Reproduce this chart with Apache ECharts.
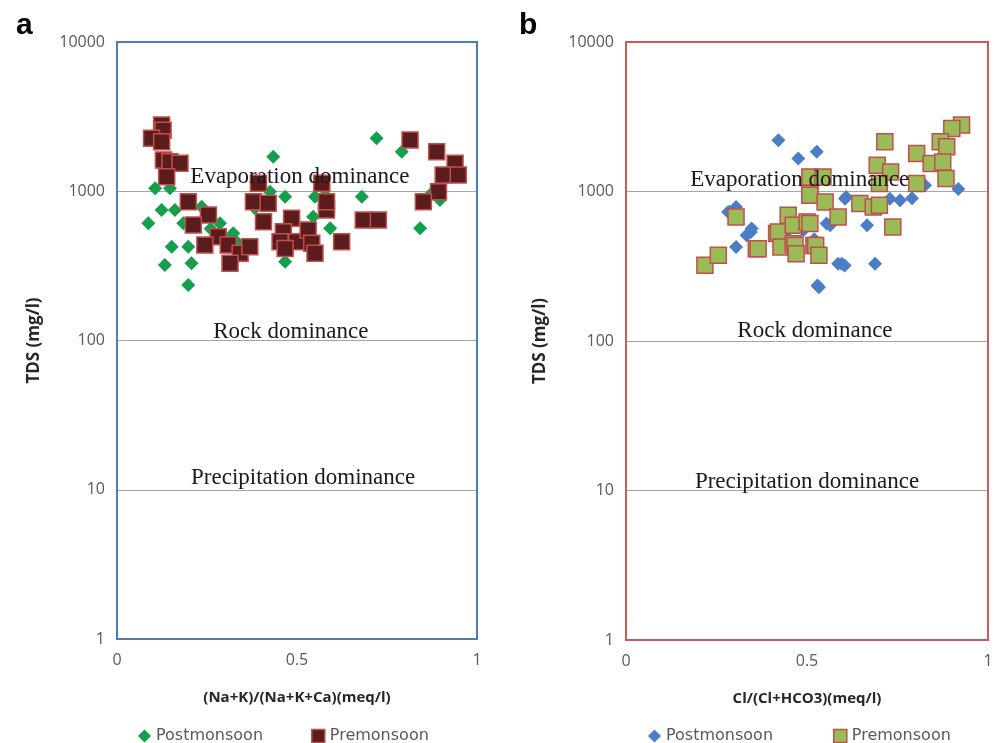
<!DOCTYPE html>
<html>
<head>
<meta charset="utf-8">
<script src="https://cdn.jsdelivr.net/npm/echarts@6/dist/echarts.min.js"></script>
<style>
  html, body { margin: 0; padding: 0; background: #fff; }
  #main { width: 998px; height: 743px; }
</style>
</head>
<body>
<div id="main"></div>
<script>
// panel a: (Na+K)/(Na+K+Ca) vs TDS
const postA = [
  [0.087, 610], [0.106, 1047], [0.147, 1047], [0.124, 749], [0.161, 749], [0.184, 610],
  [0.235, 788], [0.286, 610], [0.323, 523], [0.152, 425], [0.198, 425], [0.133, 321],
  [0.207, 329], [0.198, 235], [0.332, 459], [0.434, 1706], [0.425, 993], [0.467, 919],
  [0.55, 919], [0.578, 944], [0.545, 675], [0.592, 565], [0.467, 337], [0.383, 769],
  [0.721, 2264], [0.791, 1841], [0.68, 919], [0.842, 565], [0.897, 874], [0.874, 970],
  [0.26, 560], [0.3, 480]
];
const preA = [
  [0.124, 2780], [0.128, 2560], [0.096, 2264], [0.124, 2148], [0.129, 1618], [0.147, 1578],
  [0.175, 1540], [0.138, 1250], [0.198, 851], [0.254, 693], [0.212, 594], [0.281, 496],
  [0.244, 436], [0.309, 436], [0.342, 384], [0.369, 425], [0.314, 329], [0.393, 1130],
  [0.379, 851], [0.42, 830], [0.407, 625], [0.485, 659], [0.462, 536], [0.453, 459],
  [0.499, 459], [0.467, 414], [0.531, 551], [0.541, 448], [0.55, 384], [0.569, 1130],
  [0.582, 749], [0.582, 850], [0.624, 459], [0.684, 641], [0.726, 641], [0.814, 2203],
  [0.888, 1841], [0.939, 1540], [0.906, 1285], [0.948, 1285], [0.893, 993], [0.851, 851]
];

// panel b: Cl/(Cl+HCO3) vs TDS
const postB = [
  [0.421, 2203], [0.476, 1663], [0.527, 1841], [0.287, 729], [0.347, 565], [0.333, 509],
  [0.304, 425], [0.529, 235], [0.304, 788], [0.282, 729], [0.345, 536], [0.533, 229],
  [0.586, 329], [0.604, 320], [0.554, 610], [0.605, 895], [0.608, 919], [0.729, 895],
  [0.757, 874], [0.826, 1101], [0.918, 1040], [0.564, 594], [0.666, 594], [0.596, 329],
  [0.688, 329], [0.79, 900], [0.49, 550], [0.52, 480], [0.45, 480]
];
const preB = [
  [0.218, 321], [0.255, 374], [0.304, 675], [0.36, 414], [0.365, 414], [0.416, 523],
  [0.421, 536], [0.428, 425], [0.448, 693], [0.462, 594], [0.462, 448], [0.467, 436],
  [0.47, 384], [0.5, 625], [0.508, 610], [0.519, 436], [0.524, 436], [0.533, 374],
  [0.508, 1250], [0.508, 970], [0.544, 1250], [0.508, 944], [0.55, 851], [0.586, 675],
  [0.927, 2780], [0.9, 2640], [0.868, 2148], [0.886, 1990], [0.715, 2148], [0.803, 1796],
  [0.843, 1540], [0.875, 1578], [0.884, 1222], [0.803, 1130], [0.694, 1500], [0.731, 1352],
  [0.7, 1130], [0.646, 830], [0.683, 788], [0.7, 809], [0.737, 579]
];

// zone labels [x, y, text]
const zonesA = [[0.508, 1245, 'Evaporation dominance'], [0.483, 114, 'Rock dominance'], [0.517, 12, 'Precipitation dominance']];
const zonesB = [[0.48, 1190, 'Evaporation dominance'], [0.522, 116, 'Rock dominance'], [0.5, 11.4, 'Precipitation dominance']];

const xTitles = ['(Na+K)/(Na+K+Ca)(meq/l)', 'Cl/(Cl+HCO3)(meq/l)'];
const yTitle = 'TDS (mg/l)';

const tickFont = { color: '#595959', fontSize: 16, fontFamily: 'Open Sans' };

function xAxis(i) {
  return {
    type: 'value', gridIndex: i, min: 0, max: 1, interval: 0.5,
    axisLine: { show: false }, axisTick: { show: false }, splitLine: { show: false },
    axisLabel: Object.assign({ margin: 13, formatter: v => String(v) }, tickFont),
    name: xTitles[i], nameLocation: 'middle', nameGap: 51,
    nameTextStyle: { fontSize: 15, fontWeight: 'bold', color: '#262626', fontFamily: 'Open Sans' }
  };
}
function yAxis(i, gap) {
  return {
    type: 'log', logBase: 10, gridIndex: i, min: 1, max: 10000,
    axisLine: { show: false }, axisTick: { show: false },
    splitLine: { show: true, showMinLine: false, showMaxLine: false, lineStyle: { color: '#a6a6a6', width: 1.2 } },
    axisLabel: Object.assign({ margin: 12, formatter: v => String(v) }, tickFont),
    name: yTitle, nameLocation: 'middle', nameGap: gap,
    nameTextStyle: { fontSize: 17, fontWeight: 'bold', color: '#262626', fontFamily: 'Open Sans' }
  };
}
function zoneMarks(z) {
  return {
    silent: true, symbolSize: 0,
    label: { show: true, position: 'inside', formatter: p => p.name, color: '#1a1a1a',
             fontSize: 23, fontFamily: 'Liberation Serif' },
    data: z.map(d => ({ coord: [d[0], d[1]], name: d[2], value: 0 }))
  };
}

const chart = echarts.init(document.getElementById('main'), null, { renderer: 'canvas' });
chart.setOption({
  animation: false,
  textStyle: { fontFamily: 'Open Sans' },
  title: [
    { text: 'a', left: 11, top: 6, textStyle: { fontSize: 30, fontWeight: 'bold', color: '#000', fontFamily: 'Liberation Sans' } },
    { text: 'b', left: 514, top: 6, textStyle: { fontSize: 30, fontWeight: 'bold', color: '#000', fontFamily: 'Liberation Sans' } }
  ],
  grid: [
    { left: 117, top: 42, width: 360, height: 597, show: true, z: 10, borderColor: '#4a7ebb', borderWidth: 2, backgroundColor: 'transparent' },
    { left: 626, top: 42, width: 362, height: 598, show: true, z: 10, borderColor: '#cf5b58', borderWidth: 2, backgroundColor: 'transparent' }
  ],
  xAxis: [xAxis(0), xAxis(1)],
  yAxis: [yAxis(0, 74), yAxis(1, 77)],
  legend: [
    {
      left: 133, top: 723, itemWidth: 13, itemHeight: 13, itemGap: 48,
      textStyle: { color: '#595959', fontSize: 16, fontFamily: 'DejaVu Sans' },
      data: [
        { name: 'Postmonsoon', icon: 'diamond', itemStyle: { color: '#13a04c', borderWidth: 0 } },
        { name: 'Premonsoon', icon: 'rect', itemStyle: { color: '#5a1c1c', borderColor: '#c0504d', borderWidth: 1.5 } }
      ]
    },
    {
      left: 643, top: 723, itemWidth: 13, itemHeight: 13, itemGap: 60,
      textStyle: { color: '#595959', fontSize: 16, fontFamily: 'DejaVu Sans' },
      data: [
        { name: 'Postmonsoon', icon: 'diamond', itemStyle: { color: '#4a7fc6', borderWidth: 0 } },
        { name: 'Premonsoon', icon: 'rect', itemStyle: { color: '#9bbb59', borderColor: '#c0504d', borderWidth: 1.5 } }
      ]
    }
  ],
  series: [
    {
      name: 'Postmonsoon', type: 'scatter', xAxisIndex: 0, yAxisIndex: 0,
      symbol: 'diamond', symbolSize: 14, data: postA,
      itemStyle: { color: '#13a04c', opacity: 1 },
      markPoint: zoneMarks(zonesA)
    },
    {
      name: 'Premonsoon', type: 'scatter', xAxisIndex: 0, yAxisIndex: 0,
      symbol: 'rect', symbolSize: 16, data: preA,
      itemStyle: { color: '#5a1c1c', borderColor: '#c0504d', borderWidth: 1.5, opacity: 1 }
    },
    {
      name: 'Postmonsoon', type: 'scatter', xAxisIndex: 1, yAxisIndex: 1,
      symbol: 'diamond', symbolSize: 14, data: postB,
      itemStyle: { color: '#4a7fc6', opacity: 1 },
      markPoint: zoneMarks(zonesB)
    },
    {
      name: 'Premonsoon', type: 'scatter', xAxisIndex: 1, yAxisIndex: 1,
      symbol: 'rect', symbolSize: 16, data: preB,
      itemStyle: { color: '#9bbb59', borderColor: '#c0504d', borderWidth: 1.5, opacity: 1 }
    }
  ]
});
</script>
</body>
</html>
